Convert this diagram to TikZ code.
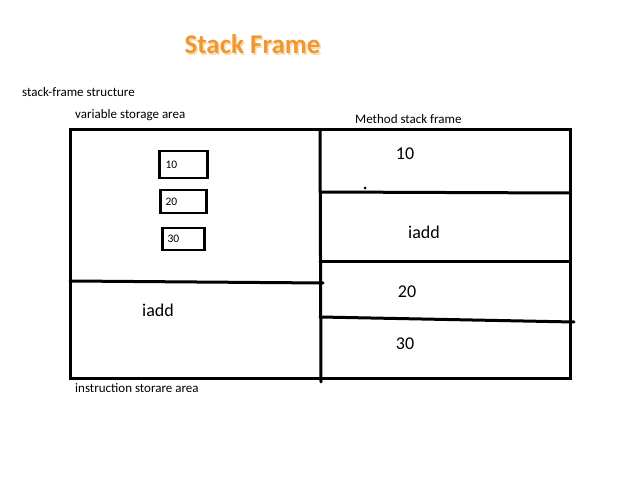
\documentclass[tikz,border=0pt]{standalone}
\usepackage{fontspec}
\setmainfont{Carlito}
\definecolor{titleorange}{RGB}{240,150,50}
\definecolor{titleglow}{RGB}{250,220,170}

\tikzset{
    frameline/.style={line width=3pt, line cap=round},
    slotbox/.style={draw, line width=2.6pt, minimum width=46pt, minimum height=24pt,
        inner sep=3pt, font=\fontsize{11.5}{13}\selectfont, text width=36pt, align=left},
    caption/.style={anchor=west, font=\fontsize{13}{15}\selectfont, inner sep=0pt},
    cell/.style={font=\fontsize{18}{20}\selectfont, inner sep=0pt}
}

\begin{document}
\begin{tikzpicture}[x=1pt,y=-1pt]
        \useasboundingbox (0,0) rectangle (638,478);
        \def\top{130}
        \def\bot{379}
        \def\mid{320}

        % title
        \node[font=\fontsize{27}{30}\bfseries\selectfont, text=titleglow] at (254,46) {Stack Frame};
        \node[font=\fontsize{27}{30}\bfseries\selectfont, text=titleorange] (title) at (252.5,44.5) {Stack Frame};

        % captions
        \node[caption] (struct) at (22,92) {stack-frame structure};
        \node[caption] (varlbl) at (75,115) {variable storage area};
        \node[caption] (methlbl) at (355,119) {Method stack frame};
        \node[caption] (instrlbl) at (75,388) {instruction storare area};

        % outer frame
        \draw[frameline] (70,\top) rectangle (570,\bot);
        \draw[frameline] (\mid,\top) -- (321,382);
        \draw[frameline] (70,281) -- (323,283);

        % method stack slots
        \draw[frameline] (320,192) -- (570,193);
        \draw[frameline] (320,262) -- (570,262);
        \draw[frameline] (320,317) -- (574,322);
        \fill (365,188) circle (1.5pt);

        % variable slots
        \node[slotbox, minimum width=48pt, minimum height=27pt] (var10) at (183.5,164.5) {10};
        \node[slotbox, minimum width=46pt, minimum height=23pt] (var20) at (183.5,201.5) {20};
        \node[slotbox, minimum width=42pt, minimum height=22pt, text width=32pt] (var30) at (183.5,239) {30};

        % contents
        \node[cell] (instr) at (158,310) {iadd};
        \node[cell] (m10) at (405,154) {10};
        \node[cell] (miadd) at (424,232) {iadd};
        \node[cell] (m20) at (407,292) {20};
        \node[cell] (m30) at (405,344) {30};
\end{tikzpicture}
\end{document}
